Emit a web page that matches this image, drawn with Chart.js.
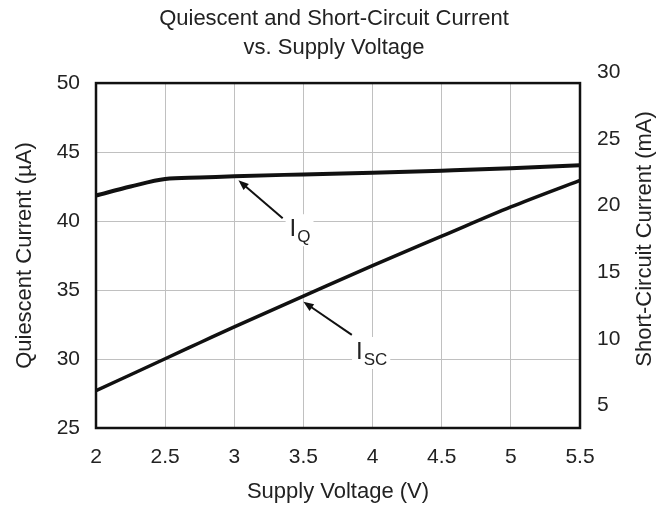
<!DOCTYPE html>
<html>
<head>
<meta charset="utf-8">
<script src="https://cdn.jsdelivr.net/npm/chart.js@4"></script>
<style>
  html, body { margin: 0; padding: 0; background: #fff; }
  #wrap { width: 668px; height: 509px; }
</style>
</head>
<body>
<div id="wrap"><canvas></canvas></div>
<script>
// supply voltage (V)
const voltage = [2, 2.25, 2.5, 2.75, 3, 3.5, 4, 4.5, 5, 5.5]
// quiescent current (uA), left axis
const iq = [41.85, 42.5, 43.05, 43.15, 43.25, 43.38, 43.5, 43.65, 43.82, 44.05]
// short-circuit current (mA), right axis
const isc = [6.1, 7.3, 8.5, 9.7, 10.9, 13.2, 15.5, 17.7, 19.9, 21.9]

const leftTicks = [25, 30, 35, 40, 45, 50]
const rightTicks = [5, 10, 15, 20, 25, 30]
const xTicks = [2, 2.5, 3, 3.5, 4, 4.5, 5, 5.5]

// annotation arrows, in data units (x: V, y: left axis uA)
const arrows = [
  { tip: [3.03, 42.95], tail: [3.35, 40.2], label: [3.40, 38.9], main: 'I', sub: 'Q' },
  { tip: [3.50, 34.15], tail: [3.85, 31.75], label: [3.88, 30.0], main: 'I', sub: 'SC' }
]

const font = '"Liberation Sans", Arial, sans-serif'
const textColor = '#222'
const gridColor = '#c0c0c0'

const frame = {
  id: 'frame',
  afterDatasetsDraw(chart) {
    const ctx = chart.ctx
    const a = chart.chartArea
    ctx.save()
    ctx.strokeStyle = '#111'
    ctx.lineWidth = 2.5
    ctx.strokeRect(a.left, a.top, a.right - a.left, a.bottom - a.top)

    const sx = chart.scales.x
    const sy = chart.scales.y
    arrows.forEach((ar) => {
      const x1 = sx.getPixelForValue(ar.tail[0])
      const y1 = sy.getPixelForValue(ar.tail[1])
      const x2 = sx.getPixelForValue(ar.tip[0])
      const y2 = sy.getPixelForValue(ar.tip[1])
      const ang = Math.atan2(y2 - y1, x2 - x1)
      const head = 11
      ctx.strokeStyle = '#111'
      ctx.fillStyle = '#111'
      ctx.lineWidth = 2
      ctx.beginPath()
      ctx.moveTo(x1, y1)
      ctx.lineTo(x2 - Math.cos(ang) * head * 0.8, y2 - Math.sin(ang) * head * 0.8)
      ctx.stroke()
      ctx.beginPath()
      ctx.moveTo(x2, y2)
      ctx.lineTo(x2 - head * Math.cos(ang - 0.38), y2 - head * Math.sin(ang - 0.38))
      ctx.lineTo(x2 - head * Math.cos(ang + 0.38), y2 - head * Math.sin(ang + 0.38))
      ctx.closePath()
      ctx.fill()

      // label with white box behind it
      const lx = sx.getPixelForValue(ar.label[0])
      const ly = sy.getPixelForValue(ar.label[1])
      ctx.font = '24px ' + font
      const w1 = ctx.measureText(ar.main).width
      ctx.font = '17px ' + font
      const w2 = ctx.measureText(ar.sub).width
      ctx.fillStyle = '#fff'
      ctx.fillRect(lx - 4, ly - 22, w1 + w2 + 8, 32)
      ctx.fillStyle = textColor
      ctx.textBaseline = 'alphabetic'
      ctx.textAlign = 'left'
      ctx.font = '24px ' + font
      ctx.fillText(ar.main, lx, ly)
      ctx.font = '17px ' + font
      ctx.fillText(ar.sub, lx + w1 + 1, ly + 6)
    })

    // right axis title, reading bottom to top
    const r = chart.scales.y1
    const cy = (r.getPixelForValue(rightTicks[0]) + r.getPixelForValue(rightTicks[rightTicks.length - 1])) / 2
    ctx.translate(chart.width - 23, cy)
    ctx.rotate(-Math.PI / 2)
    ctx.font = '22px ' + font
    ctx.fillStyle = textColor
    ctx.textAlign = 'center'
    ctx.textBaseline = 'middle'
    ctx.fillText('Short-Circuit Current (mA)', 0, 0)
    ctx.restore()
  }
}

new Chart(document.querySelector('canvas').getContext('2d'), {
  type: 'line',
  data: {
    labels: voltage,
    datasets: [
      {
        label: 'IQ',
        data: voltage.map((v, i) => ({ x: v, y: iq[i] })),
        yAxisID: 'y',
        borderColor: '#111',
        borderWidth: 4,
        pointRadius: 0,
        cubicInterpolationMode: 'monotone',
        fill: false
      },
      {
        label: 'ISC',
        data: voltage.map((v, i) => ({ x: v, y: isc[i] })),
        yAxisID: 'y1',
        borderColor: '#111',
        borderWidth: 3.5,
        pointRadius: 0,
        cubicInterpolationMode: 'monotone',
        fill: false
      }
    ]
  },
  options: {
    responsive: true,
    maintainAspectRatio: false,
    animation: false,
    layout: { padding: 0 },
    plugins: {
      legend: { display: false },
      tooltip: { enabled: false },
      title: {
        display: true,
        text: ['Quiescent and Short-Circuit Current', 'vs. Supply Voltage'],
        color: textColor,
        font: { family: font, size: 22, weight: 'normal', lineHeight: 1.32 },
        padding: { top: 4, bottom: 21 }
      }
    },
    scales: {
      x: {
        type: 'linear',
        min: 2,
        max: 5.5,
        afterBuildTicks: (axis) => { axis.ticks = xTicks.map((v) => ({ value: v })) },
        afterFit: (axis) => { axis.height = 81 },
        grid: { color: gridColor, lineWidth: 1, drawTicks: false },
        border: { display: false },
        ticks: {
          color: textColor,
          padding: 17,
          autoSkip: false,
          maxRotation: 0,
          callback: (v) => String(v),
          font: { family: font, size: 21 }
        },
        title: {
          display: true,
          text: 'Supply Voltage (V)',
          color: textColor,
          font: { family: font, size: 22 },
          padding: { top: 0, bottom: 4 }
        }
      },
      y: {
        position: 'left',
        min: 25,
        max: 50,
        afterBuildTicks: (axis) => { axis.ticks = leftTicks.map((v) => ({ value: v })) },
        afterFit: (axis) => { axis.width = 96 },
        grid: { color: gridColor, lineWidth: 1, drawTicks: false },
        border: { display: false },
        ticks: {
          color: textColor,
          padding: 16,
          callback: (v) => String(v),
          font: { family: font, size: 21 }
        },
        title: {
          display: true,
          text: 'Quiescent Current (µA)',
          color: textColor,
          font: { family: font, size: 22 },
          padding: { top: 12, bottom: 0 }
        }
      },
      y1: {
        position: 'right',
        min: 3.3,
        max: 29.2,
        afterBuildTicks: (axis) => { axis.ticks = rightTicks.map((v) => ({ value: v })) },
        afterFit: (axis) => { axis.width = 88 },
        grid: { display: false, drawTicks: false },
        border: { display: false },
        ticks: {
          color: textColor,
          padding: 17,
          autoSkip: false,
          callback: (v) => String(v),
          font: { family: font, size: 21 }
        },
        title: { display: false }
      }
    }
  },
  plugins: [frame]
})
</script>
</body>
</html>
